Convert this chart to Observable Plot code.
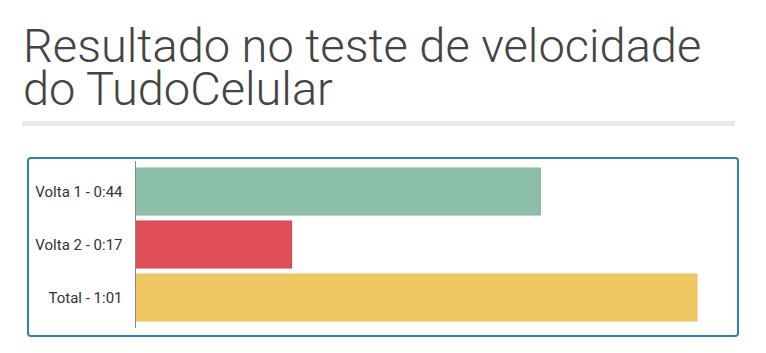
<!DOCTYPE html>
<html>
<head>
<meta charset="utf-8">
<script src="https://cdn.jsdelivr.net/npm/d3@7"></script>
<script src="https://cdn.jsdelivr.net/npm/@observablehq/plot@0.6"></script>
<style>
  html, body { margin: 0; padding: 0; background: #fff; }
  body { width: 766px; height: 353px; position: relative; overflow: hidden; font-family: Roboto, sans-serif; }
  .title { position: absolute; left: 23px; font-size: 47px; line-height: 43px; height: 43px; color: #444; font-weight: 300; white-space: nowrap; }
  #t1 { top: 24px; }
  #t2 { top: 67px; }
  #rule { position: absolute; left: 22px; top: 121px; width: 713px; height: 5px; background: #e8e8e8; }
  #box { position: absolute; left: 27px; top: 157px; width: 712px; height: 180px; box-sizing: border-box; border: 2px solid #2e84a6; border-radius: 4px; background: #fff; }
  #chart { position: absolute; left: 0; top: 0; }
</style>
</head>
<body>
<div class="title" id="t1">Resultado no teste de velocidade</div>
<div class="title" id="t2">do TudoCelular</div>
<div id="rule"></div>
<div id="box"><div id="chart"></div></div>
<script>
const categories = ["Volta 1 - 0:44", "Volta 2 - 0:17", "Total - 1:01"];
const seconds = [44, 17, 61];
const colors = ["#8cbfa7", "#e04f58", "#efc863"];
const strokes = ["#86b49f", "#c94650", "#e8c060"];

const data = categories.map((c, i) => ({label: c, value: seconds[i], color: colors[i], stroke: strokes[i]}));

const chart = Plot.plot({
  width: 708,
  height: 176,
  marginLeft: 106,
  marginRight: 40,
  marginTop: 2,
  marginBottom: 7,
  style: {fontFamily: "Roboto, sans-serif", fontSize: "15px", color: "#333", background: "transparent"},
  x: {domain: [0, 61], axis: null},
  y: {domain: categories, padding: 0.12, label: null, tickSize: 0, tickPadding: 13},
  marks: [
    Plot.barX(data, {x: "value", y: "label", fill: "color", stroke: "stroke", strokeWidth: 1, insetLeft: 0.5}),
    Plot.ruleX([0], {stroke: "#888", strokeWidth: 1})
  ]
});
document.getElementById("chart").appendChild(chart);
</script>
</body>
</html>
